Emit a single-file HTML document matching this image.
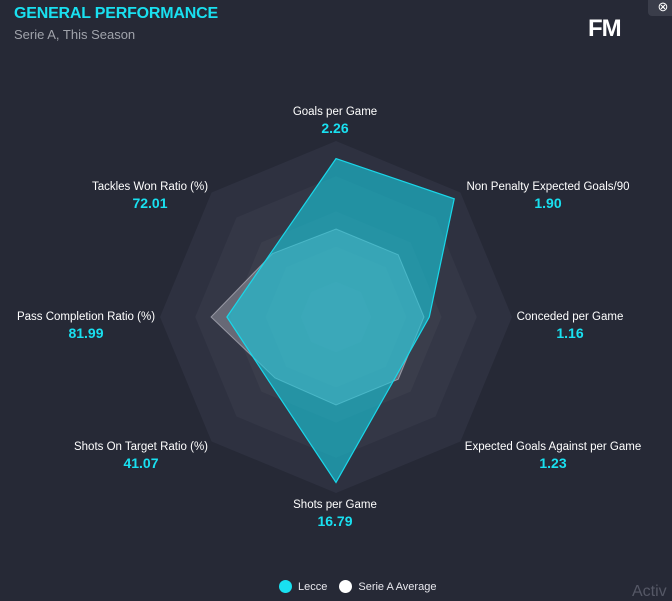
<!DOCTYPE html>
<html><head><meta charset="utf-8"><style>
body{margin:0;width:672px;height:597px;background:#262936;overflow:hidden;font-family:"Liberation Sans",sans-serif;position:relative}
.t{position:absolute;color:#fff}
</style></head><body>
<div class="t" style="left:14px;top:5px;font-size:16px;font-weight:bold;color:#19e0f0;letter-spacing:-0.2px">GENERAL PERFORMANCE</div>
<div class="t" style="left:14px;top:27px;font-size:13px;color:#a0a3ab">Serie A, This Season</div>
<div class="t" style="left:588px;top:15px;font-size:24px;font-weight:bold;letter-spacing:-1px">FM</div>
<div style="position:absolute;left:648px;top:-6px;width:30px;height:22px;background:#3a3d4a;border-radius:4px;color:#fff;font-size:13px;text-align:center;line-height:26px">⊗</div>
<svg id="c" width="672" height="597" style="position:absolute;left:0;top:0"></svg>
<div style="position:absolute;left:279px;top:580px;font-size:11px;color:#e8e8ee;display:flex;align-items:center">
<span style="width:13px;height:13px;border-radius:50%;background:#19e0f0;display:inline-block;margin-right:6px"></span><span>Lecce</span>
<span style="width:13px;height:13px;border-radius:50%;background:#fff;display:inline-block;margin:0 6px 0 12px"></span><span>Serie A Average</span></div>
<div class="t" style="left:632px;top:583px;font-size:16px;color:#555866">Activ</div>
<script>
const labels=["Goals per Game","Non Penalty Expected Goals/90","Conceded per Game","Expected Goals Against per Game","Shots per Game","Shots On Target Ratio (%)","Pass Completion Ratio (%)","Tackles Won Ratio (%)"];
const values=["2.26","1.90","1.16","1.23","16.79","41.07","81.99","72.01"];
const lecce=[0.90,0.95,0.53,0.48,0.94,0.53,0.62,0.52];
const average=[0.50,0.50,0.50,0.50,0.50,0.49,0.71,0.51];
const cx=336,cy=317,R=176;
const svg=document.getElementById('c');const NS='http://www.w3.org/2000/svg';
function pt(i,f){const a=-Math.PI/2+i*Math.PI/4;return [cx+Math.cos(a)*R*f,cy+Math.sin(a)*R*f];}
function poly(arr,attrs,name){const p=document.createElementNS(NS,'polygon');
p.setAttribute('points',arr.map((f,i)=>pt(i,f).join(',')).join(' '));
for(const k in attrs)p.setAttribute(k,attrs[k]);


svg.appendChild(p);}
const ringCols=['#2e3140','#343746','#3a3d4b','#404351','#454857'];
for(let r=0;r<5;r++){const f=1-r*0.2;poly(new Array(8).fill(f),{fill:ringCols[r]},'grid-ring-'+(r+1));}
poly(average,{fill:'rgba(200,200,210,0.35)',stroke:'rgba(220,220,230,0.5)','stroke-width':1},'series-average');
poly(lecce,{fill:'rgba(25,200,220,0.62)',stroke:'#19d8ea','stroke-width':1.2},'series-lecce');
const lp=[[335,111,'middle'],[548,186,'middle'],[570,316,'middle'],[553,446,'middle'],[335,504,'middle'],[141,446,'middle'],[86,316,'middle'],[150,186,'middle']];
labels.forEach((l,i)=>{const [x,y,a]=lp[i];
const t=document.createElementNS(NS,'text');t.setAttribute('x',x);t.setAttribute('y',y+4);t.setAttribute('text-anchor',a);
t.setAttribute('fill','#fff');t.setAttribute('font-size','11.5');t.textContent=l;


svg.appendChild(t);
const v=document.createElementNS(NS,'text');v.setAttribute('x',x);v.setAttribute('y',y+22);v.setAttribute('text-anchor',a);
v.setAttribute('fill','#19e0f0');v.setAttribute('font-size','14');v.setAttribute('font-weight','bold');v.textContent=values[i];


svg.appendChild(v);});
</script>
</body></html>
